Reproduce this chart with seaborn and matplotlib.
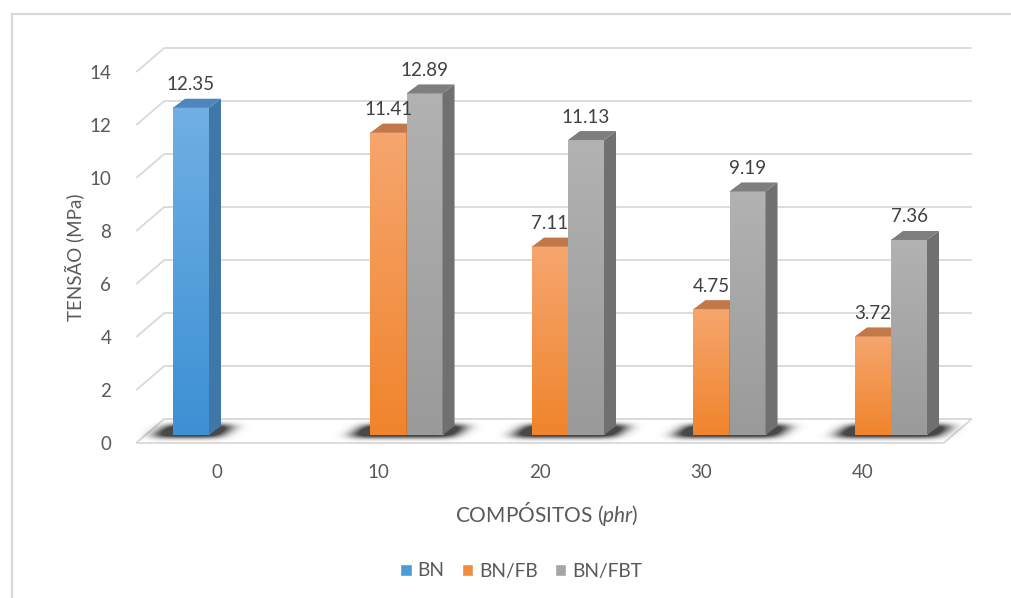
import numpy as np
import pandas as pd
import seaborn as sns
import matplotlib
matplotlib.use("Agg")
import matplotlib.pyplot as plt
from matplotlib.patches import Polygon
from matplotlib.lines import Line2D
from matplotlib.transforms import ScaledTranslation
from matplotlib.colors import LinearSegmentedColormap, to_rgb

# ---- data -------------------------------------------------------------
categories = ["0", "10", "20", "30", "40"]
series = ["BN", "BN/FB", "BN/FBT"]
bn = [12.35, None, None, None, None]
bn_fb = [None, 11.41, 7.11, 4.75, 3.72]
bn_fbt = [None, 12.89, 11.13, 9.19, 7.36]
y_ticks = [0, 2, 4, 6, 8, 10, 12, 14]

rows = []
for name, vals in zip(series, [bn, bn_fb, bn_fbt]):
    for cat, v in zip(categories, vals):
        if v is not None:
            rows.append({"composite": cat, "series": name, "value": v})
df = pd.DataFrame(rows)

# ---- styling ------------------------------------------------------------
sns.set_theme(style="white")
plt.rcParams["font.family"] = ["Lato", "DejaVu Sans"]
plt.rcParams["mathtext.fontset"] = "custom"
plt.rcParams["mathtext.rm"] = "Lato"
plt.rcParams["mathtext.it"] = "Lato:italic"

TEXT = "#595959"
GRID = "#D9D9D9"
base_colors = ["#4C9BD9", "#F08C3E", "#A6A6A6"]
front_grad = [("#3C90D4", "#70B0E4"), ("#F0842C", "#F6A66E"), ("#9A9A9A", "#B2B2B2")]
side_colors = ["#3F77A8", "#B5622A", "#707070"]
top_colors = ["#4E86BC", "#C27849", "#7E7E7E"]

W, H = 1011, 598
fig = plt.figure(figsize=(W / 100, H / 100), dpi=100)

# plot plane: category centre at 227 + 161.5*i px, value 0 at y=435 px (from top)
XLIM = (-0.562, 4.65)
YLIM = (-0.302, 15.0)
left_px = 227 + 161.5 * XLIM[0]
right_px = 227 + 161.5 * XLIM[1]
bot_px = 435 - 26.5 * YLIM[0]
top_px = 435 - 26.5 * YLIM[1]
ax = fig.add_axes([left_px / W, 1 - bot_px / H,
                   (right_px - left_px) / W, (bot_px - top_px) / H])

# chart frame
fig.add_artist(Line2D([12 / W, 12 / W], [0, 1 - 14 / H], transform=fig.transFigure,
                      color=GRID, lw=1.6))
fig.add_artist(Line2D([12 / W, 1], [1 - 14 / H, 1 - 14 / H], transform=fig.transFigure,
                      color=GRID, lw=1.6))

sns.barplot(data=df, x="composite", y="value", hue="series", order=categories,
            hue_order=series, palette=base_colors, width=0.669, gap=0,
            errorbar=None, saturation=1, ax=ax)
ax.set_xlim(*XLIM)
ax.set_ylim(*YLIM)

# oblique depth offsets in pixels (display coords, y up)
FRONT = (-10, -8)
BACK = (18, 16)
DEPTH = (12, 9)


def off(x, y, d):
    p = ax.transData.transform((x, y))
    return tuple(ax.transData.inverted().transform((p[0] + d[0], p[1] + d[1])))


# back wall, side wall and floor
for v in y_ticks:
    fl = off(-0.5, v, FRONT)
    bl = off(-0.5, v, BACK)
    br = off(4.5, v, BACK)
    ax.plot([fl[0], bl[0], br[0]], [fl[1], bl[1], br[1]], color=GRID, lw=1.3,
            zorder=1, clip_on=False, solid_capstyle="butt")
floor = [off(-0.5, 0, FRONT), off(4.5, 0, FRONT), off(4.5, 0, BACK), off(-0.5, 0, BACK)]
ax.add_patch(Polygon(floor, closed=True, fc="white", ec=GRID, lw=1.3, zorder=1.2,
                     clip_on=False))

# collect bars
bars = []
for hi, cont in enumerate(ax.containers):
    for rect in cont:
        h = rect.get_height()
        if not np.isfinite(h) or h == 0:
            continue
        bars.append((rect.get_x(), rect.get_width(), h, hi, rect))
bars.sort(key=lambda b: b[0])

# soft floor shadow under each bar
PX0, PX1, PY0, PY1 = 100, 1010, 125, 205
X, Y = np.meshgrid(np.arange(PX0, PX1) + 0.5, np.arange(PY0, PY1) + 0.5)
mask = np.zeros_like(X)
yb = ax.transData.transform((0, 0))[1]
slope = DEPTH[0] / DEPTH[1]
for x0, w, h, hi, rect in bars:
    x0p = ax.transData.transform((x0, 0))[0]
    x1p = ax.transData.transform((x0 + w, 0))[0]
    xe = X - (Y - yb) * slope
    sel = (Y >= yb - 2) & (Y <= yb + DEPTH[1] + 1) & (xe >= x0p - 18) & (xe <= x1p + 12)
    mask[sel] = 1.0


def gauss(sig):
    r = int(3 * sig)
    k = np.exp(-0.5 * (np.arange(-r, r + 1) / sig) ** 2)
    return k / k.sum()


kx, ky = gauss(8.0), gauss(2.5)
blur = np.apply_along_axis(lambda r: np.convolve(r, kx, mode="same"), 1, mask)
blur = np.apply_along_axis(lambda c: np.convolve(c, ky, mode="same"), 0, blur)
shadow = np.zeros(blur.shape + (4,))
shadow[..., :3] = to_rgb("#2E2E2E")
shadow[..., 3] = np.clip(blur * 1.35, 0, 0.88)
e0 = ax.transData.inverted().transform((PX0, PY0))
e1 = ax.transData.inverted().transform((PX1, PY1))
ax.imshow(shadow, extent=(e0[0], e1[0], e0[1], e1[1]), origin="lower",
          aspect="auto", zorder=1.5, interpolation="bilinear", clip_on=False)

# bars: gradient front, dark side, top
grad = np.linspace(0, 1, 256).reshape(-1, 1)
for i, (x0, w, h, hi, rect) in enumerate(bars):
    z = 3 + i * 0.1
    x1 = x0 + w
    rect.set_visible(False)
    cmap = LinearSegmentedColormap.from_list(f"g{hi}", list(front_grad[hi]))
    ax.imshow(grad, extent=(x0, x1, 0, h), origin="lower", aspect="auto", cmap=cmap,
              zorder=z, clip_on=False)
    side = [(x1, 0), (x1, h), off(x1, h, DEPTH), off(x1, 0, DEPTH)]
    ax.add_patch(Polygon(side, closed=True, fc=side_colors[hi], ec="none",
                         zorder=z + 0.01, clip_on=False))
    top = [(x0, h), (x1, h), off(x1, h, DEPTH), off(x0, h, DEPTH)]
    ax.add_patch(Polygon(top, closed=True, fc=top_colors[hi], ec="none",
                         zorder=z + 0.02, clip_on=False))
    ax.annotate(f"{h:.2f}", xy=(x0 + w / 2, h), xytext=(0, 23),
                textcoords="offset pixels", ha="center", va="center",
                fontsize=13.5, color="#404040", zorder=10)

ax.set_xlim(*XLIM)
ax.set_ylim(*YLIM)

# axes, ticks and labels
for s in ax.spines.values():
    s.set_visible(False)
ax.set_xticks(range(len(categories)))
ax.set_xticklabels(categories)
ax.set_yticks(y_ticks)
ax.set_yticklabels([str(t) for t in y_ticks])
ax.tick_params(axis="both", length=0, labelsize=13.5, labelcolor=TEXT)
ax.tick_params(axis="y", pad=18)
ax.tick_params(axis="x", pad=15)
for lbl in ax.get_xticklabels():
    lbl.set_transform(lbl.get_transform() +
                      ScaledTranslation(FRONT[0] / 100, 0, fig.dpi_scale_trans))
for lbl in ax.get_yticklabels():
    lbl.set_transform(lbl.get_transform() +
                      ScaledTranslation(0, FRONT[1] / 100, fig.dpi_scale_trans))

ax.set_ylabel("TENSÃO (MPa)", fontsize=13.5, color=TEXT)
ax.yaxis.set_label_coords(84 / W, 1 - 257 / H, transform=fig.transFigure)
ax.set_xlabel("COMPÓSITOS ($\\it{phr}$)", fontsize=15, color=TEXT)
ax.xaxis.set_label_coords(547 / W, 1 - 500 / H, transform=fig.transFigure)

sns.move_legend(ax, "center", bbox_to_anchor=(521 / W, 1 - 571 / H),
                bbox_transform=fig.transFigure, ncol=3, frameon=False, title=None,
                handlelength=0.6, handleheight=0.6, handletextpad=0.3,
                columnspacing=0.9, fontsize=13.8, labelcolor=TEXT)

fig.savefig("out.png", dpi=100, facecolor="white")
